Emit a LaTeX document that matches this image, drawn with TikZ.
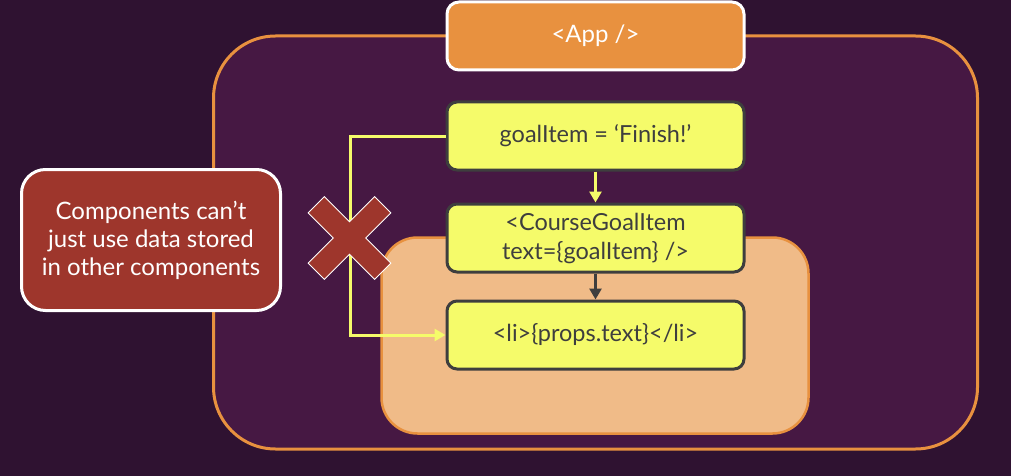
\documentclass[tikz,border=0pt]{standalone}
\usepackage{fontspec}
\setmainfont{Lato}
\usetikzlibrary{positioning,arrows.meta}
\definecolor{bgpurple}{HTML}{2F1231}
\definecolor{framepurple}{HTML}{461843}
\definecolor{appgold}{HTML}{E8913F}
\definecolor{peach}{HTML}{F0BB88}
\definecolor{lemon}{HTML}{F5FB6A}
\definecolor{slate}{HTML}{3E3E3E}
\definecolor{brick}{HTML}{9E362C}

\begin{document}
\begin{tikzpicture}[x=1pt,y=-1pt,
  codebox/.style={draw=slate,line width=3pt,fill=lemon,rounded corners=10pt,
    minimum width=297pt,minimum height=68pt,inner sep=0pt,text=slate,
    align=center,font=\fontsize{23.5}{29}\selectfont},
  flow/.style={line width=3pt,-{Triangle[length=11pt,width=12pt]}}]
  % backdrop and containers
  \fill[bgpurple] (0,0) rectangle (1011,476);
  \node[draw=appgold,fill=framepurple,line width=3pt,rounded corners=62pt,
    minimum width=764pt,minimum height=413pt] (appframe) at (595.5,242.5) {};
  \node[draw=appgold,fill=peach,line width=2.5pt,rounded corners=36pt,
    minimum width=427pt,minimum height=196pt] (itemframe) at (595,335.5) {};
  \node[draw=white,fill=appgold,line width=3pt,rounded corners=12pt,
    minimum width=297pt,minimum height=68pt,text=white,
    font=\fontsize{24}{29}\selectfont] (app) at (595.5,36) {<App />};

  % component boxes
  \node[codebox] (goal) at (595.5,136) {goalItem = ‘Finish!’};
  \node[codebox,below=31pt of goal] (course) {<CourseGoalItem\\text=\{goalItem\} />};
  \node[codebox,below=26pt of course] (li) {<li>\{props.text\}</li>};

  \draw[flow,lemon] (goal) -- (course);
  \draw[flow,slate,line width=3.5pt] (course) -- (li);
  \coordinate (detour) at (350,136);
  \draw[flow,lemon] (goal.west) -- (detour) |- (li.west);

  % the cross
  \begin{scope}[shift={(349.5,238)},rotate=45]
    \filldraw[brick,draw=white,line width=0.8pt]
      (-11.5,47) -- (11.5,47) -- (11.5,11.5) -- (47,11.5) -- (47,-11.5) -- (11.5,-11.5)
      -- (11.5,-47) -- (-11.5,-47) -- (-11.5,-11.5) -- (-47,-11.5) -- (-47,11.5)
      -- (-11.5,11.5) -- cycle;
  \end{scope}

  \node[draw=white,fill=brick,line width=3pt,rounded corners=24pt,
    minimum width=259pt,minimum height=141pt,text=white,align=center,
    font=\fontsize{24}{28}\selectfont] (note) at (151,240)
    {Components can’t\\just use data stored\\in other components};
\end{tikzpicture}
\end{document}
